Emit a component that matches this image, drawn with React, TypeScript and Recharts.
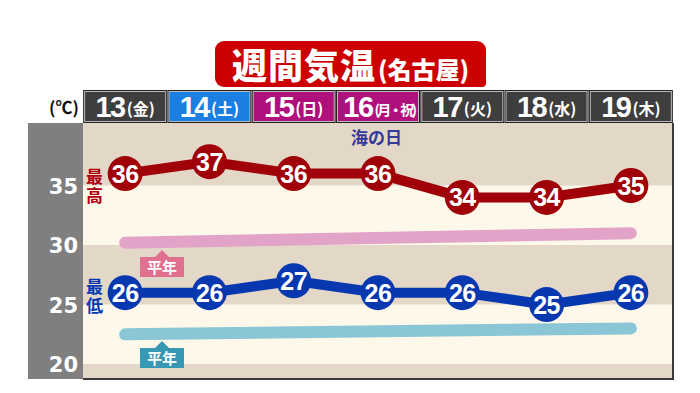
import React from 'react';
import { LineChart, Line, XAxis, YAxis, ReferenceArea } from 'recharts';

const days = ['13', '14', '15', '16', '17', '18', '19'];
const weekdays = ['金', '土', '日', '月・祝', '火', '水', '木'];
const highs = [36, 37, 36, 36, 34, 34, 35];
const lows = [26, 26, 27, 26, 26, 25, 26];
// 平年値: 期間の最初と最後の値だけ読み取り、間は直線でつなぐ
const normalHighs = [30.2, null, null, null, null, null, 31.0];
const normalLows = [22.5, null, null, null, null, null, 23.0];
const yTicks = [20, 25, 30, 35];
const yDomain: [number, number] = [18.75, 40.25];

const HIGH_COLOR = '#a00008';
const LOW_COLOR = '#0838b0';
const TAN = '#e3d8c7';
const CREAM = '#fdf8e9';
const JP_FONT = '"Noto Sans CJK JP", "Noto Sans", sans-serif';
const NUM_FONT = '"Liberation Sans", Arial, sans-serif';

const chartData = days.map((day, i) => ({
  idx: i,
  day,
  high: highs[i],
  low: lows[i],
  normalHigh: normalHighs[i],
  normalLow: normalLows[i],
}));
const xTicks = days.map((_, i) => i);

// 帯: 目盛りごとに交互の色
const bandEdges = [yDomain[0], ...yTicks, yDomain[1]];
const bands = bandEdges.slice(0, -1).map((from, i) => ({
  from,
  to: bandEdges[i + 1],
  fill: (bandEdges.length - 2 - i) % 2 === 0 ? TAN : CREAM,
}));

function headerColor(weekday: string) {
  if (weekday === '土') return '#1a7fe0';
  if (weekday === '日' || weekday.includes('祝')) return '#b0107c';
  return '#3e3e3e';
}

function HeaderTick(props: any) {
  const { x, payload } = props;
  const i = Number(payload.value);
  const weekday = weekdays[i] ?? '';
  const long = weekday.length > 1;
  return (
    <g>
      <rect x={x - 42} y={90} width={84} height={33} fill="#222" />
      <rect
        x={x - 40.5}
        y={91.5}
        width={81}
        height={30}
        fill={headerColor(weekday)}
        stroke="#bbb"
        strokeWidth={1}
      />
      <text
        x={x + (long ? 1 : 0)}
        y={117}
        textAnchor="middle"
        fill="#fff"
        fontWeight="bold"
        fontFamily={NUM_FONT}
      >
        <tspan fontSize={29} letterSpacing={-1.5}>
          {days[i]}
        </tspan>
        <tspan
          fontSize={long ? 14 : 16}
          fontFamily={JP_FONT}
          dy={-2}
          dx={2}
          letterSpacing={long ? -2.5 : 0}
        >
          {`(${weekday})`}
        </tspan>
      </text>
    </g>
  );
}

function ValueTick(props: any) {
  const { y, payload } = props;
  return (
    <text
      x={78}
      y={y + 8}
      textAnchor="end"
      fill="#fff"
      fontSize={21}
      fontWeight="bold"
      fontFamily='"DejaVu Sans", sans-serif'
    >
      {payload.value}
    </text>
  );
}

function makeDot(color: string) {
  return (p: any) => {
    const { cx, cy, value, index } = p;
    if (cx == null || cy == null) return <g key={index} />;
    return (
      <g key={index}>
        <circle cx={cx} cy={cy} r={17.5} fill={color} />
        <text
          x={cx}
          y={cy + 9}
          textAnchor="middle"
          fill="#fff"
          fontSize={25}
          fontWeight="bold"
          fontFamily={NUM_FONT}
          letterSpacing={-0.5}
        >
          {value}
        </text>
      </g>
    );
  };
}

function Tag({ left, top, color }: { left: number; top: number; color: string }) {
  return (
    <div style={{ position: 'absolute', left, top, width: 44, height: 27 }}>
      <div
        style={{
          position: 'absolute',
          left: 15,
          top: 0,
          width: 0,
          height: 0,
          borderLeft: '7px solid transparent',
          borderRight: '7px solid transparent',
          borderBottom: `7px solid ${color}`,
        }}
      />
      <div
        style={{
          position: 'absolute',
          left: 0,
          top: 7,
          width: 44,
          height: 20,
          background: color,
          color: '#fff',
          fontFamily: JP_FONT,
          fontWeight: 700,
          fontSize: 15,
          lineHeight: '20px',
          textAlign: 'center',
        }}
      >
        平年
      </div>
    </div>
  );
}

const sideLabel = {
  position: 'absolute' as const,
  left: 86,
  width: 18,
  fontFamily: JP_FONT,
  fontWeight: 700,
  fontSize: 17,
  lineHeight: '19px',
};

export default function App() {
  return (
    <div
      style={{
        position: 'absolute',
        left: 0,
        top: 0,
        width: 700,
        height: 393,
        background: '#fff',
        overflow: 'hidden',
      }}
    >
      <div
        style={{
          position: 'absolute',
          left: 28,
          top: 123,
          width: 55,
          height: 256,
          background: '#7f7f7f',
        }}
      />
      <div style={{ position: 'absolute', left: 0, top: 0 }}>
        <LineChart
          width={700}
          height={393}
          data={chartData}
          margin={{ top: 90, right: 27, bottom: 14, left: 28 }}
        >
          <XAxis
            dataKey="idx"
            type="number"
            domain={[-0.5, 6.5]}
            ticks={xTicks}
            orientation="top"
            height={33}
            axisLine={false}
            tickLine={false}
            interval={0}
            tick={<HeaderTick />}
          />
          <YAxis
            type="number"
            domain={yDomain}
            ticks={yTicks}
            width={55}
            axisLine={false}
            tickLine={false}
            allowDataOverflow
            tick={<ValueTick />}
          />
          {bands.map((b) => (
            <ReferenceArea
              key={b.from}
              y1={b.from}
              y2={b.to}
              fill={b.fill}
              fillOpacity={1}
              strokeOpacity={0}
              ifOverflow="hidden"
            />
          ))}
          <Line
            dataKey="normalHigh"
            stroke="#e2a3c9"
            strokeWidth={12}
            strokeLinecap="round"
            dot={false}
            connectNulls
            isAnimationActive={false}
          />
          <Line
            dataKey="normalLow"
            stroke="#8ac6d5"
            strokeWidth={12}
            strokeLinecap="round"
            dot={false}
            connectNulls
            isAnimationActive={false}
          />
          <Line
            dataKey="high"
            stroke={HIGH_COLOR}
            strokeWidth={10}
            dot={makeDot(HIGH_COLOR)}
            activeDot={false}
            isAnimationActive={false}
          />
          <Line
            dataKey="low"
            stroke={LOW_COLOR}
            strokeWidth={10}
            dot={makeDot(LOW_COLOR)}
            activeDot={false}
            isAnimationActive={false}
          />
        </LineChart>
      </div>

      {/* 枠線 */}
      <div
        style={{
          position: 'absolute',
          left: 83,
          top: 123,
          width: 591,
          height: 257,
          boxSizing: 'border-box',
          borderRight: '2px solid #3a3a3a',
          borderBottom: '2px solid #3a3a3a',
          pointerEvents: 'none',
        }}
      />

      {/* タイトル */}
      <div
        style={{
          position: 'absolute',
          left: 215,
          top: 41,
          width: 271,
          height: 46,
          background: '#cc0000',
          borderRadius: '9px 9px 4px 9px',
          color: '#fff',
          fontFamily: JP_FONT,
          fontWeight: 900,
          whiteSpace: 'nowrap',
          textAlign: 'center',
          lineHeight: '46px',
        }}
      >
        <span style={{ fontSize: 35, letterSpacing: 1 }}>週間気温</span>
        <span style={{ fontSize: 24, marginLeft: 2 }}>(名古屋)</span>
      </div>

      <div
        style={{
          position: 'absolute',
          left: 49,
          top: 95,
          fontFamily: JP_FONT,
          fontWeight: 700,
          fontSize: 17,
          color: '#111',
          lineHeight: '24px',
        }}
      >
        (℃)
      </div>

      <div style={{ ...sideLabel, top: 166, color: '#b00010' }}>
        最<br />高
      </div>
      <div style={{ ...sideLabel, top: 276, color: LOW_COLOR }}>
        最<br />低
      </div>

      <div
        style={{
          position: 'absolute',
          left: 351,
          top: 126,
          fontFamily: JP_FONT,
          fontWeight: 700,
          fontSize: 17,
          lineHeight: '22px',
          color: '#33399a',
        }}
      >
        海の日
      </div>

      <Tag left={140} top={250} color="#e0708f" />
      <Tag left={140} top={341} color="#3798b3" />
    </div>
  );
}
